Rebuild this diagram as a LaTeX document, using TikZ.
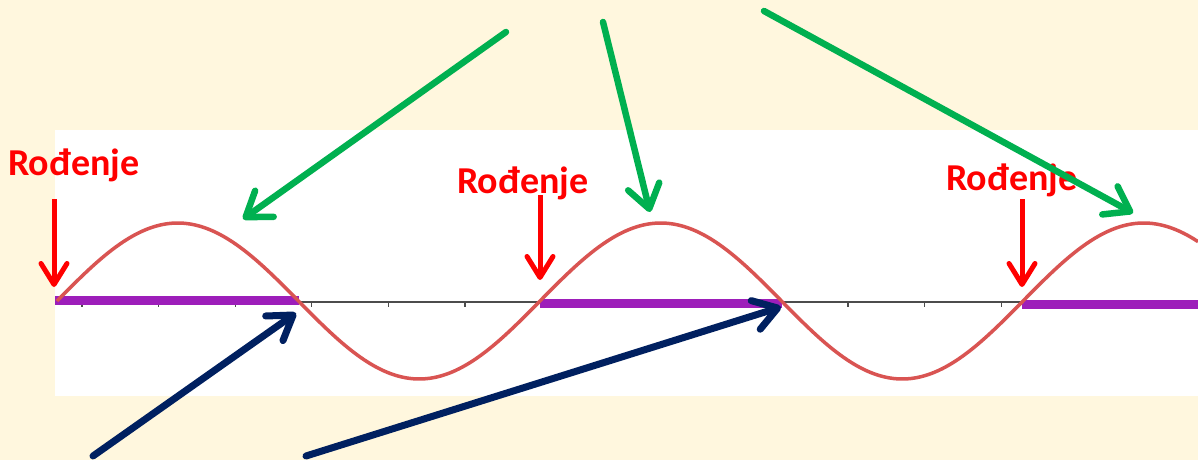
\documentclass[tikz,border=0pt]{standalone}
\usepackage{fontspec}
\setmainfont{Carlito}
\usetikzlibrary{arrows.meta}
\definecolor{cream}{RGB}{255,247,222}
\definecolor{wavered}{RGB}{217,84,82}
\definecolor{lifepurple}{RGB}{157,30,186}
\definecolor{peakgreen}{RGB}{0,176,80}
\definecolor{crossnavy}{RGB}{0,32,96}
\tikzset{
    birth/.style={text=red, font=\fontsize{38}{38}\selectfont\bfseries,
                  inner sep=0pt, anchor=base west},
    birthflow/.style={-{Straight Barb[length=21pt, width=26pt, round]},
                      red, line width=5pt},
    peakflow/.style={-{Straight Barb[length=23pt, width=32pt, round]},
                     peakgreen, line width=6.5pt, line cap=round},
    crossflow/.style={-{Straight Barb[length=23pt, width=30pt, round]},
                      crossnavy, line width=7pt, line cap=round},
    wave/.style={wavered, line width=3.5pt},
    lifespan/.style={lifepurple, line width=9pt},
    axisline/.style={black!70, line width=1.6pt},
}
\newcommand{\birthmark}[4]{
    \coordinate (#1top) at (#2,#3);
    \coordinate (#1tip) at (#2,#4);
    \draw[birthflow] (#1top) -- (#1tip);
}

\begin{document}
\begin{tikzpicture}[x=1pt, y=-1pt]
    \path[use as bounding box, fill=cream] (0,0) rectangle (1198,460);
    \fill[white] (55,130) rectangle (1198,396);

    % axis with ticks
    \coordinate (axisL) at (55,302);
    \coordinate (axisR) at (1198,302);
    \draw[axisline] (axisL) -- (axisR);
    \foreach \k in {0,...,14}
        \draw[axisline, line width=1.2pt] (82+76.6*\k,302) -- ++(0,4.5);

    % lifespans
    \coordinate (lifeAstart) at (55,300);
    \coordinate (lifeAend) at (299,300);
    \coordinate (lifeBstart) at (540,303);
    \coordinate (lifeBend) at (782,303);
    \coordinate (lifeCstart) at (1022,304);
    \coordinate (lifeCend) at (1198,304);
    \draw[lifespan] (lifeAstart) -- (lifeAend);
    \draw[lifespan] (lifeBstart) -- (lifeBend);
    \draw[lifespan] (lifeCstart) -- (lifeCend);

    % wave
    \draw[wave] plot[domain=57:1198, samples=200, smooth]
        (\x, {301-78*sin((\x-57)/241.5*180)});

    % births
    \node[birth] (birthA) at (8,175) {Rođenje};
    \node[birth] (birthB) at (457,193) {Rođenje};
    \node[birth] (birthC) at (946,190) {Rođenje};
    \birthmark{birthA}{54}{199}{287}
    \birthmark{birthB}{540}{195}{280}
    \birthmark{birthC}{1022}{199}{287}

    % peaks
    \coordinate (peakAfrom) at (506,32);
    \coordinate (peakAto) at (243,219);
    \coordinate (peakBfrom) at (603,22);
    \coordinate (peakBto) at (650,212);
    \coordinate (peakCfrom) at (764,11);
    \coordinate (peakCto) at (1133,213);
    \draw[peakflow] (peakAfrom) -- (peakAto);
    \draw[peakflow] (peakBfrom) -- (peakBto);
    \draw[peakflow] (peakCfrom) -- (peakCto);

    % zero crossings
    \coordinate (crossAfrom) at (93,456);
    \coordinate (crossAto) at (296,313);
    \coordinate (crossBfrom) at (306,456);
    \coordinate (crossBto) at (781,307);
    \draw[crossflow] (crossAfrom) -- (crossAto);
    \draw[crossflow] (crossBfrom) -- (crossBto);
\end{tikzpicture}
\end{document}
